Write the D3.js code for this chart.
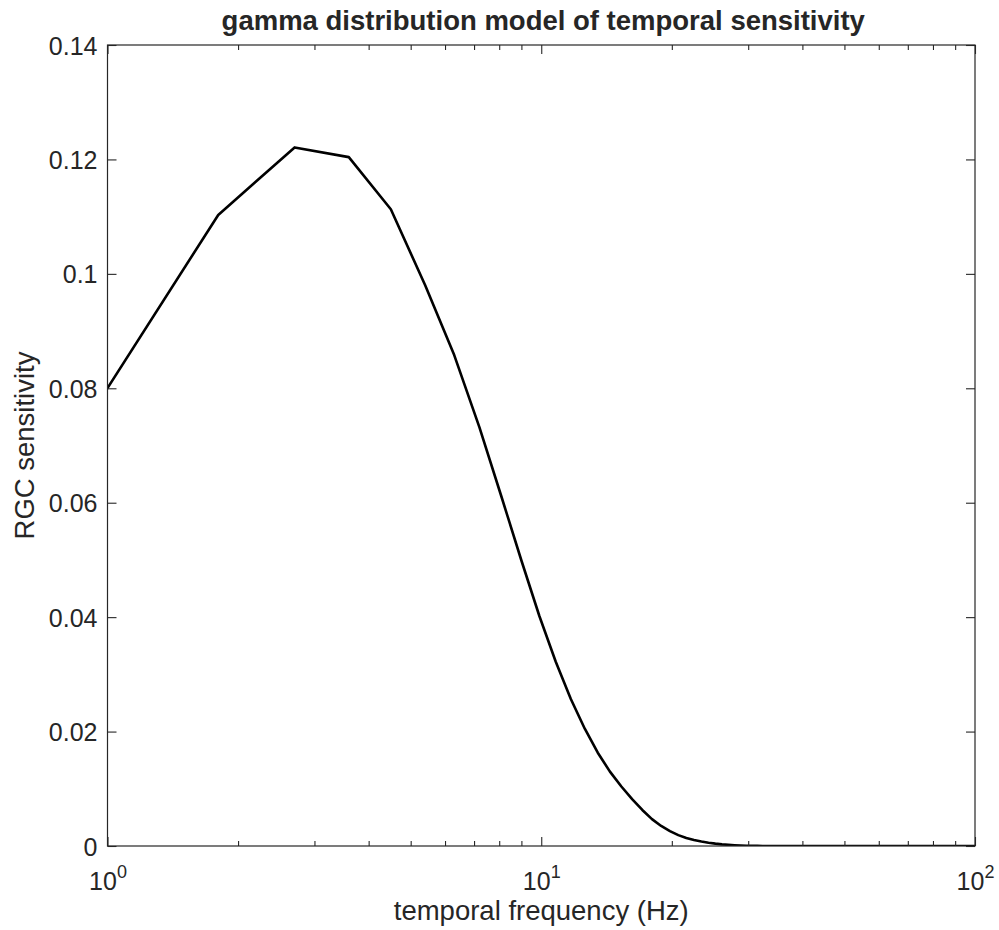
<!DOCTYPE html>
<html>
<head>
<meta charset="utf-8">
<script src="https://cdn.jsdelivr.net/npm/d3@7"></script>
<style>
  body { margin: 0; background: #fff; }
  svg { display: block; }
  text { font-family: "Liberation Sans", Arial, Helvetica, sans-serif; fill: #262626; }
</style>
</head>
<body>
<div id="chart"></div>
<script>
var freqs = [0.9, 1.8, 2.7, 3.6, 4.5, 5.4, 6.3, 7.2, 8.1, 9.0,
             9.9, 10.8, 11.7, 12.6, 13.5, 14.4, 15.3, 16.2, 17.1, 18.0,
             18.9, 19.8, 20.7, 21.6, 22.5, 23.4, 24.3, 25.2, 26.1, 27.0,
             27.9, 28.8, 29.7, 30.6, 31.5, 32.4, 100];
var sens = [0.0746, 0.1103, 0.1221, 0.1204, 0.1113, 0.0980, 0.0858, 0.0732, 0.0610, 0.0499,
            0.0402, 0.0322, 0.0257, 0.0205, 0.0163, 0.0130, 0.0104, 0.0082, 0.0063, 0.0047,
            0.0035, 0.0026, 0.0019, 0.0014, 0.00105, 0.00078, 0.00057, 0.00041, 0.00029, 0.0002,
            0.00013, 0.00008, 0.00005, 0.00003, 0.00002, 0.00001, 0];
var yTicks = [0, 0.02, 0.04, 0.06, 0.08, 0.1, 0.12, 0.14];
var xMajor = [1, 10, 100];
var xMinor = [2, 3, 4, 5, 6, 7, 8, 9, 20, 30, 40, 50, 60, 70, 80, 90];

function init(){
    var w = 999, h = 930;
    var left = 107.5, right = 975, top = 45, bottom = 846;
    var axisColor = "#262626";

    var xScale = d3.scaleLog().domain([1, 100]).range([left, right]);
    var yScale = d3.scaleLinear().domain([0, 0.14]).range([bottom, top]);

    var svg = d3.select("#chart").append("svg")
        .attr("width", w).attr("height", h);

    svg.append("defs").append("clipPath").attr("id", "plotclip")
        .append("rect")
        .attr("x", left).attr("y", top)
        .attr("width", right - left).attr("height", bottom - top);

    // data line
    var pts = freqs.map(function(f, i){ return [f, sens[i]]; });
    var line = d3.line()
        .x(function(d){ return xScale(d[0]); })
        .y(function(d){ return yScale(d[1]); });

    svg.append("path")
        .datum(pts)
        .attr("clip-path", "url(#plotclip)")
        .attr("d", line)
        .attr("fill", "none")
        .attr("stroke", "#000")
        .attr("stroke-width", 2.6)
        .attr("stroke-linejoin", "round");

    // box
    svg.append("rect")
        .attr("x", left).attr("y", top)
        .attr("width", right - left).attr("height", bottom - top)
        .attr("fill", "none")
        .attr("stroke", axisColor)
        .attr("stroke-width", 1.2);

    function styleAxis(g){
        g.select(".domain").remove();
        g.selectAll(".tick line").attr("stroke", axisColor).attr("stroke-width", 1.1);
        g.selectAll(".tick text").attr("fill", axisColor)
            .style("font-size", "25px")
            .style("font-family", "'Liberation Sans', Arial, sans-serif");
    }

    // y axes
    var yLeft = svg.append("g")
        .attr("transform", "translate(" + left + ",0)")
        .call(d3.axisLeft(yScale).tickValues(yTicks).tickSize(-9).tickPadding(10)
            .tickFormat(function(d){ return d === 0 ? "0" : d3.format("")(+d.toFixed(2)); }));
    styleAxis(yLeft);
    yLeft.selectAll(".tick text").attr("dy", "0.36em");

    var yRight = svg.append("g")
        .attr("transform", "translate(" + right + ",0)")
        .call(d3.axisRight(yScale).tickValues(yTicks).tickSize(-9).tickFormat(""));
    styleAxis(yRight);

    // x axes, major and minor
    var xBottom = svg.append("g")
        .attr("transform", "translate(0," + bottom + ")")
        .call(d3.axisBottom(xScale).tickValues(xMajor).tickSize(-9).tickFormat(""));
    styleAxis(xBottom);

    xBottom.selectAll(".tick").append("text")
        .attr("y", 44)
        .attr("text-anchor", "middle")
        .style("font-size", "25px")
        .each(function(d){
            var t = d3.select(this);
            t.append("tspan").text("10");
            t.append("tspan").attr("dy", -12).style("font-size", "18px")
                .text(Math.round(Math.log10(d)));
        });

    var xBottomMinor = svg.append("g")
        .attr("transform", "translate(0," + bottom + ")")
        .call(d3.axisBottom(xScale).tickValues(xMinor).tickSize(-5).tickFormat(""));
    styleAxis(xBottomMinor);

    var xTop = svg.append("g")
        .attr("transform", "translate(0," + top + ")")
        .call(d3.axisTop(xScale).tickValues(xMajor).tickSize(-9).tickFormat(""));
    styleAxis(xTop);

    var xTopMinor = svg.append("g")
        .attr("transform", "translate(0," + top + ")")
        .call(d3.axisTop(xScale).tickValues(xMinor).tickSize(-5).tickFormat(""));
    styleAxis(xTopMinor);

    // labels
    svg.append("text")
        .attr("x", (left + right) / 2 + 2).attr("y", 30)
        .attr("text-anchor", "middle")
        .style("font-size", "27.5px").style("font-weight", "bold")
        .attr("fill", "#000")
        .text("gamma distribution model of temporal sensitivity");

    svg.append("text")
        .attr("x", (left + right) / 2).attr("y", 920)
        .attr("text-anchor", "middle")
        .style("font-size", "27.5px")
        .text("temporal frequency (Hz)");

    svg.append("text")
        .attr("transform", "translate(34," + (top + bottom) / 2 + ") rotate(-90)")
        .attr("text-anchor", "middle")
        .style("font-size", "27.5px")
        .text("RGC sensitivity");
}
window.onload = init;
</script>
</body>
</html>
